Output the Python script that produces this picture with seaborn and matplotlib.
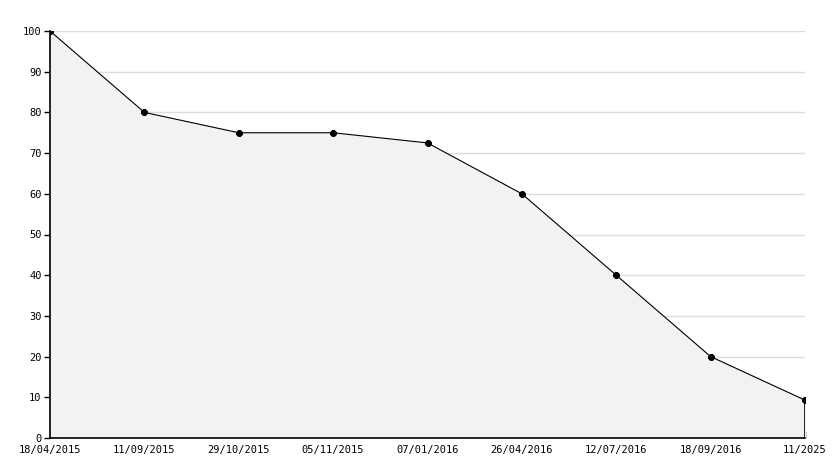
import pandas as pd
import matplotlib
matplotlib.use("Agg")
import matplotlib.pyplot as plt
import seaborn as sns
from matplotlib.ticker import MultipleLocator

dates = ["18/04/2015", "11/09/2015", "29/10/2015", "05/11/2015", "07/01/2016",
         "26/04/2016", "12/07/2016", "18/09/2016", "11/2025"]
values = [100, 80, 75, 75, 72.5, 60, 40, 20, 9.3]

df = pd.DataFrame({"pos": range(len(dates)), "date": dates, "value": values})

sns.set_style("ticks")
plt.rcParams['font.family'] = ['DejaVu Sans Mono']
plt.rcParams['text.color'] = 'black'
plt.rcParams['xtick.color'] = 'black'
plt.rcParams['ytick.color'] = 'black'

fig = plt.figure(figsize=(8.34, 4.68), dpi=100)
ax = fig.add_axes([50 / 834, 30 / 468, 755 / 834, 407 / 468])

# grey area under the line
ax.fill_between(df["pos"], 0, df["value"], color="#f2f2f2", zorder=1)
ax.vlines(df["pos"].iloc[-1], 0, df["value"].iloc[-1], color="black", lw=1.2, zorder=2)

sns.lineplot(data=df, x="pos", y="value", ax=ax, color="black", lw=0.8,
             marker="8", markersize=5, markeredgecolor="black", zorder=3)

ax.set_xlim(0, len(dates) - 1)
ax.set_ylim(0, 100)
ax.yaxis.set_major_locator(MultipleLocator(10))
ax.yaxis.set_minor_locator(MultipleLocator(5))
ax.set_xticks(df["pos"])
ax.set_xticklabels(dates)
ax.grid(axis="y", which="major", color="#dcdcdc", lw=1, zorder=0)
ax.set_axisbelow(True)

ax.tick_params(axis="y", which="major", direction="out", length=4, width=1,
               labelsize=7.5, pad=2, left=True, colors="black")
ax.tick_params(axis="y", which="minor", direction="in", length=3, width=1,
               left=True, colors="black")
ax.tick_params(axis="x", direction="in", length=5, width=1, labelsize=7.5, pad=5,
               bottom=True, colors="black")
# lift the "0" label a little so it clears the first date
ax.get_yticklabels()[0].set_va("bottom")

sns.despine(ax=ax, top=True, right=True)
for s in ["left", "bottom"]:
    ax.spines[s].set_color("black")
    ax.spines[s].set_linewidth(1.2)

ax.set_xlabel("")
ax.set_ylabel("")
fig.savefig("out.png", dpi=100)
